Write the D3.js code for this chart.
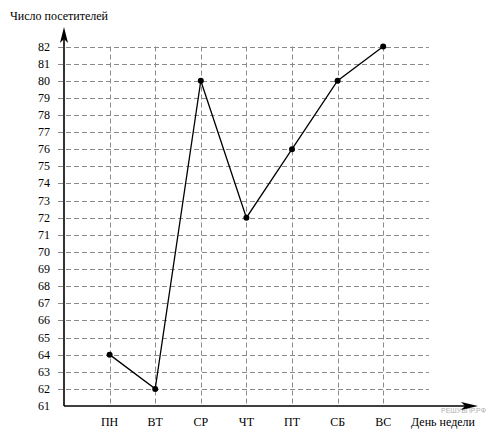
<!DOCTYPE html>
<html><head><meta charset="utf-8">
<script src="https://cdn.jsdelivr.net/npm/d3@7"></script>
<style>body{margin:0;background:#fff}svg{display:block}text.s{font-family:'Liberation Serif',serif}</style>
</head><body>
<script>
const days = ["ПН","ВТ","СР","ЧТ","ПТ","СБ","ВС"];
const visitors = [64,62,80,72,76,80,82];
const yTicks = d3.range(61,83);
const yTitle = "Число посетителей";
const xTitle = "День недели";

const W=490,H=435;
const svg=d3.select("body").append("svg").attr("width",W).attr("height",H);
const x0=64, yBase=406;
const x=d3.scalePoint().domain(["",...days,"_"]).range([x0,x0+8*45.6]);
const y=d3.scaleLinear().domain([61,82]).range([yBase,46.5]);

const grid=svg.append("g").attr("stroke","#8a8a8a").attr("stroke-width",1).attr("stroke-dasharray","5,3");
grid.selectAll("line.h").data(yTicks.slice(1)).join("line")
 .attr("x1",58).attr("x2",x("_")).attr("y1",d=>Math.round(y(d))+0.5).attr("y2",d=>Math.round(y(d))+0.5);
grid.selectAll("line.v").data(days).join("line")
 .attr("x1",d=>Math.round(x(d))+0.5).attr("x2",d=>Math.round(x(d))+0.5).attr("y1",y(82)).attr("y2",yBase);

// watermark
svg.append("text").attr("x",441).attr("y",413).attr("font-size",7).attr("fill","#b0b0b0")
 .attr("font-family","'Liberation Sans'")
 .attr("textLength",45).attr("lengthAdjust","spacingAndGlyphs").text("РЕШУВПР.РФ");

// axes
const ax=svg.append("g").attr("stroke","#000").attr("stroke-width",1.6);
ax.append("line").attr("x1",x0).attr("x2",x0).attr("y1",yBase).attr("y2",34);
ax.append("line").attr("x1",x0).attr("x2",470).attr("y1",yBase).attr("y2",yBase);
svg.append("path").attr("d",`M${x0},27 L${x0-4},43 L${x0},39 L${x0+4},43 Z`).attr("fill","#000");
svg.append("path").attr("d",`M478,${yBase} L461,${yBase-4} L465,${yBase} L461,${yBase+4} Z`).attr("fill","#000");

// y labels
svg.append("g").selectAll("text").data(yTicks).join("text").attr("class","s")
 .attr("font-family","'Liberation Serif'")
 .attr("x",50).attr("y",d=>y(d)+4).attr("text-anchor","end").attr("font-size",12).text(d=>d);
// x labels
svg.append("g").selectAll("text").data(days).join("text").attr("class","s")
 .attr("font-family","'Liberation Serif'")
 .attr("x",d=>x(d)).attr("y",426).attr("text-anchor","middle").attr("font-size",12).text(d=>d);

svg.append("text").attr("class","s").attr("font-family","'Liberation Serif'")
 .attr("x",10).attr("y",20).attr("font-size",12).text(yTitle);
svg.append("text").attr("class","s").attr("font-family","'Liberation Serif'")
 .attr("x",411).attr("y",426).attr("font-size",12).text(xTitle);

// data
svg.append("path").datum(visitors).attr("fill","none").attr("stroke","#000").attr("stroke-width",1.3)
 .attr("d",d3.line().x((d,i)=>x(days[i])).y(d=>y(d)));
svg.append("g").selectAll("circle").data(visitors).join("circle")
 .attr("cx",(d,i)=>x(days[i])).attr("cy",d=>y(d)).attr("r",3).attr("fill","#000");
</script>
</body></html>
